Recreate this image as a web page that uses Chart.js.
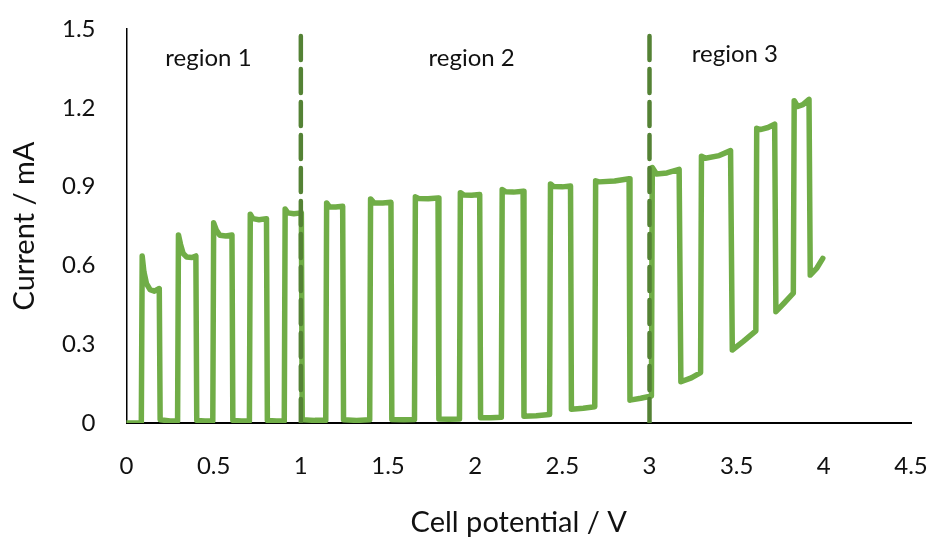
<!DOCTYPE html>
<html lang="en">
<head>
  <meta charset="UTF-8">
  <title>Current vs cell potential</title>
  <script src="https://cdn.jsdelivr.net/npm/chart.js"></script>
  <style>
    html, body { margin: 0; padding: 0; background: #fff; }
    #chart { display: block; }
  </style>
</head>
<body>
  <canvas id="chart" width="931" height="543"></canvas>

  <script>
    // Pulsed current response, potential in V and current in mA
    const potential = [
      0, 0.085, 0.09, 0.10, 0.115, 0.135, 0.16, 0.188, 0.193, 0.25,
      0.293, 0.298, 0.31, 0.325, 0.345, 0.375, 0.398, 0.403, 0.45,
      0.495, 0.5, 0.515, 0.535, 0.57, 0.605, 0.61, 0.66,
      0.705, 0.71, 0.725, 0.76, 0.803, 0.808, 0.86,
      0.905, 0.91, 0.925, 0.96, 1.003, 1.008, 1.08,
      1.143, 1.148, 1.165, 1.20, 1.24, 1.245, 1.32,
      1.395, 1.40, 1.42, 1.47, 1.517, 1.522, 1.59,
      1.652, 1.657, 1.675, 1.73, 1.787, 1.792, 1.85,
      1.91, 1.915, 1.935, 1.98, 2.026, 2.031, 2.09,
      2.15, 2.155, 2.175, 2.22, 2.275, 2.28, 2.35,
      2.427, 2.432, 2.45, 2.50, 2.547, 2.552, 2.62,
      2.686, 2.691, 2.71, 2.80, 2.883, 2.888, 2.95,
      3.011, 3.016, 3.04, 3.10, 3.17, 3.18, 3.24,
      3.293, 3.298, 3.32, 3.40, 3.465, 3.475, 3.54,
      3.61, 3.615, 3.635, 3.68, 3.718, 3.725, 3.77,
      3.825, 3.83, 3.85, 3.88, 3.915, 3.922, 3.96, 3.994
    ];
    const current = [
      0, 0, 0.636, 0.575, 0.53, 0.508, 0.502, 0.512, 0.012, 0.008,
      0.008, 0.716, 0.68, 0.645, 0.632, 0.630, 0.636, 0.01, 0.008,
      0.008, 0.762, 0.735, 0.715, 0.712, 0.716, 0.01, 0.008,
      0.008, 0.795, 0.778, 0.774, 0.778, 0.01, 0.008,
      0.008, 0.815, 0.80, 0.797, 0.80, 0.012, 0.01,
      0.01, 0.838, 0.822, 0.822, 0.825, 0.012, 0.01,
      0.012, 0.853, 0.838, 0.838, 0.84, 0.013, 0.012,
      0.013, 0.861, 0.855, 0.854, 0.857, 0.015, 0.014,
      0.015, 0.877, 0.868, 0.867, 0.87, 0.02, 0.02,
      0.022, 0.889, 0.88, 0.879, 0.882, 0.026, 0.028,
      0.032, 0.91, 0.9, 0.899, 0.902, 0.052, 0.056,
      0.062, 0.922, 0.918, 0.921, 0.93, 0.087, 0.094,
      0.103, 0.973, 0.948, 0.952, 0.966, 0.157, 0.172,
      0.192, 1.016, 1.008, 1.018, 1.037, 0.278, 0.312,
      0.351, 1.122, 1.117, 1.125, 1.138, 0.424, 0.455,
      0.494, 1.227, 1.205, 1.212, 1.232, 0.563, 0.59, 0.627
    ];

    // region borders (V) and their captions
    const boundaries = [1, 3];
    const regionNames = ['region 1', 'region 2', 'region 3'];

    const xTicks = [0, 0.5, 1, 1.5, 2, 2.5, 3, 3.5, 4, 4.5];
    const yTicks = [0, 0.3, 0.6, 0.9, 1.2, 1.5];

    const FONT = 'Lato, "Open Sans", sans-serif';
    const TEXT = '#111';

    // captions sit near the top of each region
    const regionCaptions = {
      id: 'regionCaptions',
      afterDatasetsDraw(chart) {
        const { ctx, scales: { x, y } } = chart;
        const at = [[0.47, 1.39], [1.98, 1.39], [3.49, 1.405]];
        ctx.save();
        ctx.font = '24px ' + FONT;
        ctx.fillStyle = TEXT;
        ctx.textAlign = 'center';
        ctx.textBaseline = 'middle';
        regionNames.forEach((name, i) => {
          ctx.fillText(name, x.getPixelForValue(at[i][0]), y.getPixelForValue(at[i][1]));
        });
        ctx.restore();
      }
    };

    const dividerSets = boundaries.map(v => ({
      data: [{ x: v, y: 0 }, { x: v, y: 1.5 }],
      borderColor: '#548235',
      borderWidth: 4.5,
      borderDash: [24, 9],
      borderCapStyle: 'round',
      pointRadius: 0,
      order: 0
    }));

    new Chart(document.getElementById('chart'), {
      type: 'line',
      data: {
        datasets: [
          ...dividerSets,
          {
            data: potential.map((v, i) => ({ x: v, y: current[i] })),
            borderColor: '#70AD47',
            borderWidth: 5.5,
            borderJoinStyle: 'round',
            borderCapStyle: 'round',
            pointRadius: 0,
            tension: 0,
            order: 1
          }
        ]
      },
      options: {
        responsive: false,
        animation: false,
        layout: { padding: { top: 29, right: 20, left: 0, bottom: 0 } },
        plugins: {
          legend: { display: false },
          tooltip: { enabled: false }
        },
        scales: {
          x: {
            type: 'linear',
            min: 0,
            max: 4.5,
            afterFit: s => {
              s.height = 120;
              s.paddingLeft = 0;
              s.paddingRight = 0;
            },
            afterBuildTicks: s => { s.ticks = xTicks.map(v => ({ value: v })); },
            grid: { display: false, drawTicks: false },
            border: { display: true, color: '#000', width: 2 },
            ticks: {
              padding: 29,
              color: TEXT,
              font: { family: FONT, size: 24 },
              maxRotation: 0,
              callback: v => String(v)
            },
            title: {
              display: true,
              text: 'Cell potential / V',
              color: TEXT,
              font: { family: FONT, size: 29 },
              padding: { bottom: 3 }
            }
          },
          y: {
            min: 0,
            max: 1.5,
            afterFit: s => {
              s.width = 126.5;
              s.paddingTop = 0;
              s.paddingBottom = 0;
            },
            afterBuildTicks: s => { s.ticks = yTicks.map(v => ({ value: v })); },
            grid: { display: false, drawTicks: false },
            border: { display: true, color: '#000', width: 1.5 },
            ticks: {
              padding: 31,
              color: TEXT,
              font: { family: FONT, size: 24 },
              callback: v => String(v)
            },
            title: {
              display: true,
              text: 'Current / mA',
              color: TEXT,
              font: { family: FONT, size: 29 },
              padding: { top: 7 }
            }
          }
        }
      },
      plugins: [regionCaptions]
    });
  </script>
</body>
</html>
